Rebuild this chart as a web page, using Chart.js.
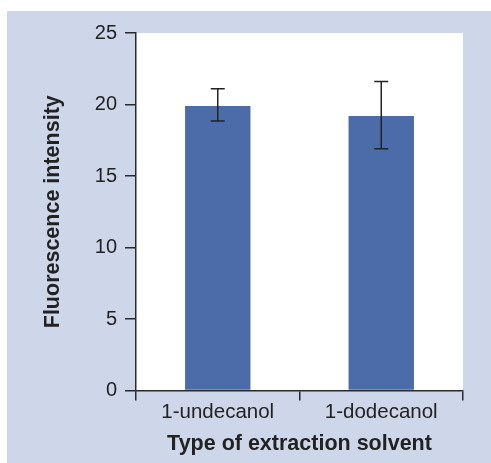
<!DOCTYPE html>
<html>
<head>
<meta charset="utf-8">
<script src="https://cdn.jsdelivr.net/npm/chart.js@4/dist/chart.umd.min.js"></script>
<style>
  body { margin: 0; background: #fff; }
  #panel { position: absolute; left: 7px; top: 11px; width: 484px; height: 452px; background: #ced6e9; }
</style>
</head>
<body>
<div id="panel"><canvas id="myChart" width="484" height="452"></canvas></div>
<script>
const solvents = ['1-undecanol', '1-dodecanol']
const intensity = [19.9, 19.2]
const errHigh = [21.1, 21.6]
const errLow = [18.85, 16.9]
const yTicks = [0, 5, 10, 15, 20, 25]

const axisColor = '#2a2a2a'
const font = 'Liberation Sans, Arial, Helvetica, sans-serif'

// white plot area behind the bars
const plotBg = {
    id: 'plotBg',
    beforeDraw(chart) {
        const { ctx, chartArea: a } = chart
        ctx.save()
        ctx.fillStyle = '#ffffff'
        ctx.fillRect(a.left, a.top, a.right - a.left, a.bottom - a.top)
        ctx.restore()
    },
}

// error bars from errHigh / errLow
const errorBars = {
    id: 'errorBars',
    afterDatasetsDraw(chart) {
        const { ctx } = chart
        const y = chart.scales.y
        const meta = chart.getDatasetMeta(0)
        ctx.save()
        ctx.strokeStyle = '#222'
        ctx.lineWidth = 1.5
        meta.data.forEach((bar, i) => {
            const top = y.getPixelForValue(errHigh[i])
            const bot = y.getPixelForValue(errLow[i])
            ctx.beginPath()
            ctx.moveTo(bar.x, top)
            ctx.lineTo(bar.x, bot)
            ctx.moveTo(bar.x - 7, top)
            ctx.lineTo(bar.x + 7, top)
            ctx.moveTo(bar.x - 7, bot)
            ctx.lineTo(bar.x + 7, bot)
            ctx.stroke()
        })
        ctx.restore()
    },
}

new Chart(document.getElementById('myChart'), {
    type: 'bar',
    data: {
        labels: solvents,
        datasets: [
            {
                data: intensity,
                backgroundColor: '#4b6ca9',
                categoryPercentage: 1,
                barPercentage: 0.4,
            },
        ],
    },
    options: {
        responsive: false,
        animation: false,
        layout: { padding: { top: 22, right: 28, left: 0, bottom: 0 } },
        plugins: { legend: { display: false }, tooltip: { enabled: false } },
        scales: {
            x: {
                afterFit(s) { s.height = 72.5 },
                border: { display: true, color: axisColor, width: 1.5 },
                grid: { drawOnChartArea: false, drawTicks: true, tickLength: 10, color: axisColor, lineWidth: 1.5 },
                ticks: { color: '#222', font: { family: font, size: 20.5 }, padding: 0 },
                title: {
                    display: true,
                    text: 'Type of extraction solvent',
                    color: '#222',
                    font: { family: font, size: 21.5, weight: 'bold' },
                    padding: { top: 0, bottom: 6 },
                },
            },
            y: {
                min: 0,
                max: 25,
                afterFit(s) { s.width = 129 },
                afterBuildTicks(s) { s.ticks = yTicks.map(v => ({ value: v })) },
                border: { display: true, color: axisColor, width: 1.5 },
                grid: { drawOnChartArea: false, drawTicks: true, tickLength: 11, color: axisColor, lineWidth: 1.5 },
                ticks: { color: '#222', font: { family: font, size: 20 }, padding: 8 },
                title: {
                    display: true,
                    text: 'Fluorescence intensity',
                    color: '#222',
                    font: { family: font, size: 21.5, weight: 'bold' },
                    padding: { top: 33, bottom: 0 },
                },
            },
        },
    },
    plugins: [plotBg, errorBars],
})
</script>
</body>
</html>
